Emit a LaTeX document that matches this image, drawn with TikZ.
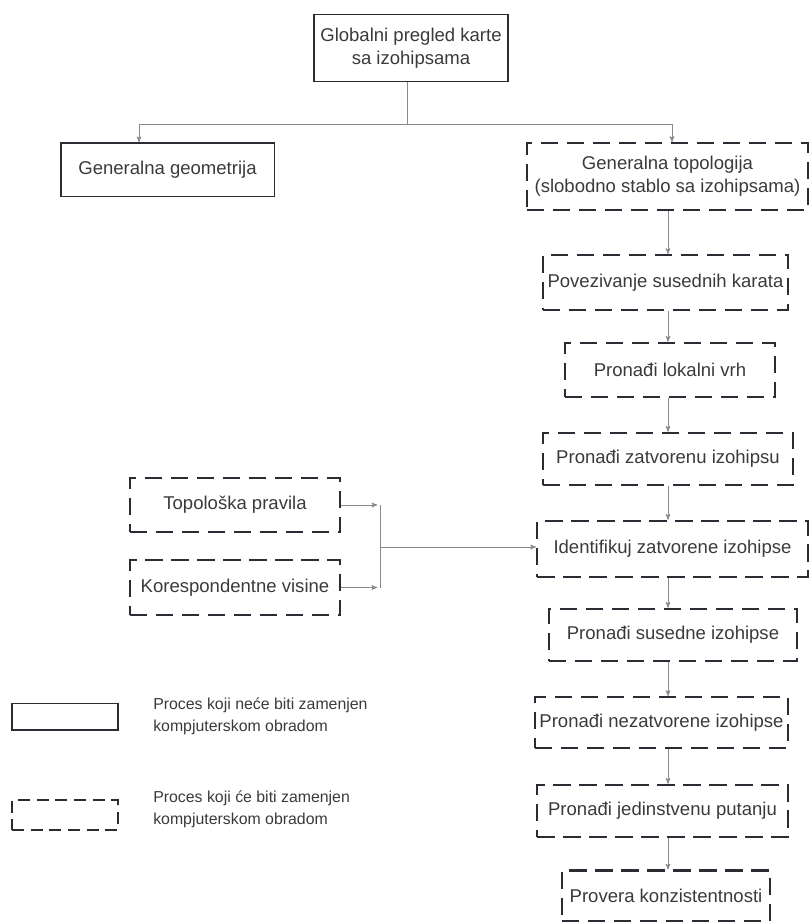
\documentclass[tikz,border=0pt]{standalone}
\usepackage{fontspec}
\setmainfont{Liberation Sans}
\usetikzlibrary{arrows,positioning}
\definecolor{okvir}{HTML}{2E2933}
\definecolor{tekst}{HTML}{3A3A3A}
\definecolor{linija}{HTML}{8A8A8A}
\tikzset{
  proces/.style = {align=center, inner sep=0pt, text centered,
    text=tekst, font=\fontsize{13.9}{17.5}\selectfont},
  proc_r/.style = {proces, rectangle, draw=okvir,
    line width=1pt},% proces, rucna obrada
  proc_k/.style = {proces, rectangle, draw=okvir, line width=1.8pt,
    dash pattern=on 13pt off 6.5pt},% proces, kompjuterska obrada
  legenda/.style = {align=left, anchor=west, inner sep=0pt, text=tekst,
    font=\fontsize{11.9}{16.5}\selectfont},% tekst legende
  veza/.style = {->, >=stealth', draw=linija, line width=0.6pt}
}

\begin{document}
\begin{tikzpicture}[x=0.75pt, y=-0.75pt]
\useasboundingbox (0,0) rectangle (810,922);
% globalni pregled
\node [proc_r, minimum width=145.5pt, minimum height=50pt] (glob) at (411,48)
    {Globalni pregled karte\\sa izohipsama};
\node [proc_r, minimum width=160pt, minimum height=40pt] (geo) at (167.5,169.5)
    {Generalna geometrija};
\node [proc_k, minimum width=211pt, minimum height=50pt] (topo) at (667.5,176.5)
    {Generalna topologija\\(slobodno stablo sa izohipsama)};
% kolona koraka
\node [proc_k, minimum width=184pt, minimum height=41pt] (povez) at (665.5,282.5)
    {Povezivanje susednih karata};
\node [proc_k, minimum width=157.5pt, minimum height=40.5pt] (vrh) at (670,370)
    {Pronađi lokalni vrh};
\node [proc_k, minimum width=187.5pt, minimum height=39pt] (zatv) at (668,459)
    {Pronađi zatvorenu izohipsu};
\node [proc_k, minimum width=203pt, minimum height=42pt] (ident) at (672.5,549)
    {Identifikuj zatvorene izohipse};
\node [proc_k, minimum width=186pt, minimum height=39pt] (sused) at (673,635)
    {Pronađi susedne izohipse};
\node [proc_k, minimum width=190pt, minimum height=38pt] (nezatv) at (661.5,722.5)
    {Pronađi nezatvorene izohipse};
\node [proc_k, minimum width=188pt, minimum height=39pt] (putanja) at (662.5,811)
    {Pronađi jedinstvenu putanju};
\node [proc_k, minimum width=156pt, minimum height=38pt] (provera) at (666,896)
    {Provera konzistentnosti};
% ulazi
\node [proc_k, minimum width=157.5pt, minimum height=40.5pt] (pravila) at (235,505)
    {Topološka pravila};
\node [proc_k, minimum width=157.5pt, minimum height=41pt] (visine) at (235,587.5)
    {Korespondentne visine};
% legenda
\node [proc_r, minimum width=79.5pt, minimum height=20pt] (leg_r) at (65,716.5) {};
\node [legenda] (leg_r_t) at (153,716)
    {Proces koji neće biti zamenjen\\kompjuterskom obradom};
\node [proc_k, line width=1.5pt, dash pattern=on 9pt off 5pt,
    minimum width=79.5pt, minimum height=22.5pt] (leg_k) at (65,815) {};
\node [legenda] (leg_k_t) at (153,809)
    {Proces koji će biti zamenjen\\kompjuterskom obradom};

% veze
\coordinate (grana) at (407,124);
\coordinate (grana_l) at (139,124);
\coordinate (grana_d) at (672,124);
\coordinate (kol) at (668,0);
\coordinate (spoj) at (380,547);
\draw [veza,-] (glob.south -| grana) -- (grana);
\draw [veza,-] (grana_l) -- (grana_d);
\draw [veza] (grana_l) -- (grana_l |- geo.north);
\draw [veza] (grana_d) -- (grana_d |- topo.north);
\foreach \a/\b in {topo/povez, povez/vrh, vrh/zatv, zatv/ident,
    ident/sused, sused/nezatv, nezatv/putanja, putanja/provera}
  \draw [veza] (\a.south -| kol) -- (\b.north -| kol);
\draw [veza] (pravila.east) -- ([xshift=-2pt]pravila.east -| spoj);
\draw [veza] (visine.east) -- ([xshift=-2pt]visine.east -| spoj);
\draw [veza,-] (spoj |- pravila.east) -- (spoj |- visine.east);
\draw [veza] (spoj) -- (spoj -| ident.west);
\end{tikzpicture}
\end{document}
